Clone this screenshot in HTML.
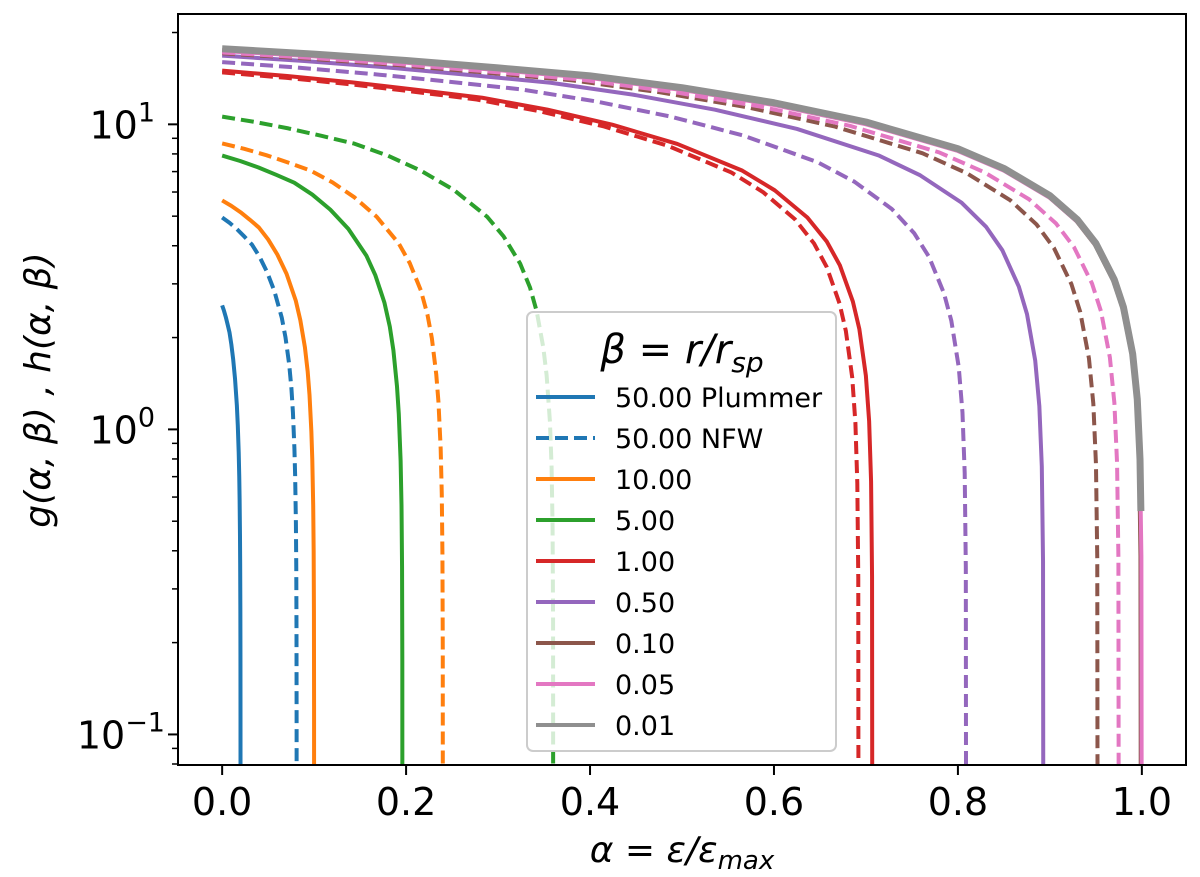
<!DOCTYPE html>
<html><head><meta charset="utf-8"><style>
html,body{margin:0;padding:0;background:#fff;overflow:hidden;}
svg{display:block;font-family:"DejaVu Sans","Liberation Sans",sans-serif;}
</style></head><body>
<svg id="chart" width="1200" height="877" viewBox="0 0 1200 877">
<defs><clipPath id="plotclip"><rect x="178" y="14" width="1008" height="751"/></clipPath></defs>
<rect x="0" y="0" width="1200" height="877" fill="#fff"/>
<g id="series" clip-path="url(#plotclip)"></g>
<g id="axes"></g>
<g id="legend"></g>
</svg>
<script>
// ---- data ----
const seriesNames = ["50.00 Plummer","50.00 NFW","10.00 Plummer","10.00 NFW","5.00 Plummer","5.00 NFW","1.00 Plummer","1.00 NFW","0.50 Plummer","0.50 NFW","0.10 Plummer","0.10 NFW","0.05 Plummer","0.05 NFW","0.01"];
const seriesColors = ["#1f77b4","#1f77b4","#ff7f0e","#ff7f0e","#2ca02c","#2ca02c","#d62728","#d62728","#9467bd","#9467bd","#8c564b","#8c564b","#e377c2","#e377c2","#8f8f8f"];
const seriesDashed = [false,true,false,true,false,true,false,true,false,true,false,true,false,true,false];
const seriesStart = [2.55,4.95,5.63,8.66,7.9,10.6,15.0,14.8,16.8,16.0,17.5,17.1,17.4,17.2,17.7];
const seriesAlphaMax = [0.02,0.081,0.1,0.24,0.196,0.36,0.707,0.692,0.893,0.809,0.999,0.952,1.0,0.975,1.0];
const seriesCutoff = [0,0,0,0,0,0,0,0,0,0,0,0,0,0,0.54];
const profileFrac = [0,0.1,0.2,0.3,0.4,0.5,0.6,0.7,0.8,0.85,0.9,0.93,0.95,0.97,0.98,0.99,0.995,0.998,0.9995,1];
const profileRel = [1,0.96,0.915,0.865,0.815,0.745,0.665,0.575,0.47,0.405,0.33,0.275,0.23,0.175,0.142,0.1,0.071,0.045,0.022,0.001];
const xTicks = [0.0,0.2,0.4,0.6,0.8,1.0];
const xTickLabels = ["0.0","0.2","0.4","0.6","0.8","1.0"];
const yMajor = [-1,0,1];
const yMajorLabels = ["\u22121","0","1"];
const legendLabels = ["50.00 Plummer","50.00 NFW","10.00","5.00","1.00","0.50","0.10","0.05","0.01"];
const legendColors = ["#1f77b4","#1f77b4","#ff7f0e","#2ca02c","#d62728","#9467bd","#8c564b","#e377c2","#8f8f8f"];
const legendDashed = [false,true,false,false,false,false,false,false,false];

// ---- scales ----
const PL=178, PR=1186, PT=14, PB=765;
const X0=-0.048, X1=1.048;
const LOG0=Math.log10(0.0794), LOG1=Math.log10(23.0);
function xs(a){return PL+(a-X0)/(X1-X0)*(PR-PL);}
function ys(v){return PB-(Math.log10(v)-LOG0)/(LOG1-LOG0)*(PB-PT);}
const NS="http://www.w3.org/2000/svg";
function mk(tag,attrs,parent){const e=document.createElementNS(NS,tag);for(const k in attrs)e.setAttribute(k,attrs[k]);parent.appendChild(e);return e;}

// ---- series ----
const sg=document.getElementById('series');
for(let i=0;i<seriesStart.length;i++){
  const pts=[];
  for(let j=0;j<profileFrac.length;j++){
    const a=profileFrac[j]*seriesAlphaMax[i];
    const v=seriesStart[i]*profileRel[j];
    if(seriesCutoff[i]>0 && v<seriesCutoff[i]){
      const pa=profileFrac[j-1]*seriesAlphaMax[i], pv=seriesStart[i]*profileRel[j-1];
      const t=(pv-seriesCutoff[i])/(pv-v);
      pts.push(xs(pa+(a-pa)*t).toFixed(2)+","+ys(seriesCutoff[i]).toFixed(2));
      break;
    }
    pts.push(xs(a).toFixed(2)+","+ys(v).toFixed(2));
  }
  const isGray=i===seriesStart.length-1;
  const p=mk('polyline',{points:pts.join(' '),fill:'none',stroke:seriesColors[i],'stroke-width':isGray?7:4,'stroke-linejoin':'round'},sg);
  if(seriesDashed[i]) p.setAttribute('stroke-dasharray','13,6');
  
  
}

// ---- axes ----
const ag=document.getElementById('axes');
const frame=mk('rect',{x:PL,y:PT,width:PR-PL,height:PB-PT,fill:'none',stroke:'#000','stroke-width':2},ag);


for(let i=0;i<xTicks.length;i++){
  const x=xs(xTicks[i]);
  const t=mk('line',{x1:x,x2:x,y1:PB,y2:PB+10,stroke:'#000','stroke-width':2},ag);
  
  
  const l=mk('text',{x:x,y:PB+50,'font-size':38,'text-anchor':'middle',fill:'#000'},ag);
  l.textContent=xTickLabels[i];
  
  
}
for(let d=-2;d<=1;d++){
  for(let m=2;m<=9;m++){
    const v=m*Math.pow(10,d);
    if(v<0.0794||v>23) continue;
    const y=ys(v);
    const t=mk('line',{x1:PL-6,x2:PL,y1:y,y2:y,stroke:'#000','stroke-width':1.5},ag);
    
    
  }
}
for(let i=0;i<yMajor.length;i++){
  const y=ys(Math.pow(10,yMajor[i]));
  const t=mk('line',{x1:PL-10,x2:PL,y1:y,y2:y,stroke:'#000','stroke-width':2},ag);
  
  
  const l=mk('text',{x:yMajor[i]<0?165:155,y:y+14,'font-size':38,'text-anchor':'end',fill:'#000'},ag);
  l.textContent='10';
  const s=mk('tspan',{'font-size':27,dy:-17},l);
  s.textContent=yMajorLabels[i];
  
  
}
const xl=mk('text',{x:682,y:862,'font-size':36,'text-anchor':'middle',fill:'#000','font-style':'italic'},ag);
xl.innerHTML='α = ε/ε<tspan font-size="26" dy="7">max</tspan>';


const yl=mk('text',{x:0,y:0,'font-size':36,'text-anchor':'middle',fill:'#000','font-style':'italic',transform:'translate(50,390) rotate(-90)'},ag);
yl.textContent='g(α, β) , h(α, β)';



// ---- legend ----
const lg=document.getElementById('legend');
const box=mk('rect',{x:527,y:312,width:309,height:439,rx:6,fill:'#fff','fill-opacity':0.8,stroke:'#cccccc','stroke-width':2},lg);


const lt=mk('text',{x:682,y:363,'font-size':40,'text-anchor':'middle',fill:'#000','font-style':'italic'},lg);
lt.innerHTML='β = r/r<tspan font-size="28" dy="9">sp</tspan>';


for(let i=0;i<legendLabels.length;i++){
  const y=397+41*i;
  const g=mk('g',{},lg);
  
  
  const ln=mk('line',{x1:536,x2:595,y1:y,y2:y,stroke:legendColors[i],'stroke-width':4},g);
  if(legendDashed[i]) ln.setAttribute('stroke-dasharray','13,6');
  
  
  const tx=mk('text',{x:615,y:y+10,'font-size':27,fill:'#000'},g);
  tx.textContent=legendLabels[i];
  
  
}
</script>
</body></html>
